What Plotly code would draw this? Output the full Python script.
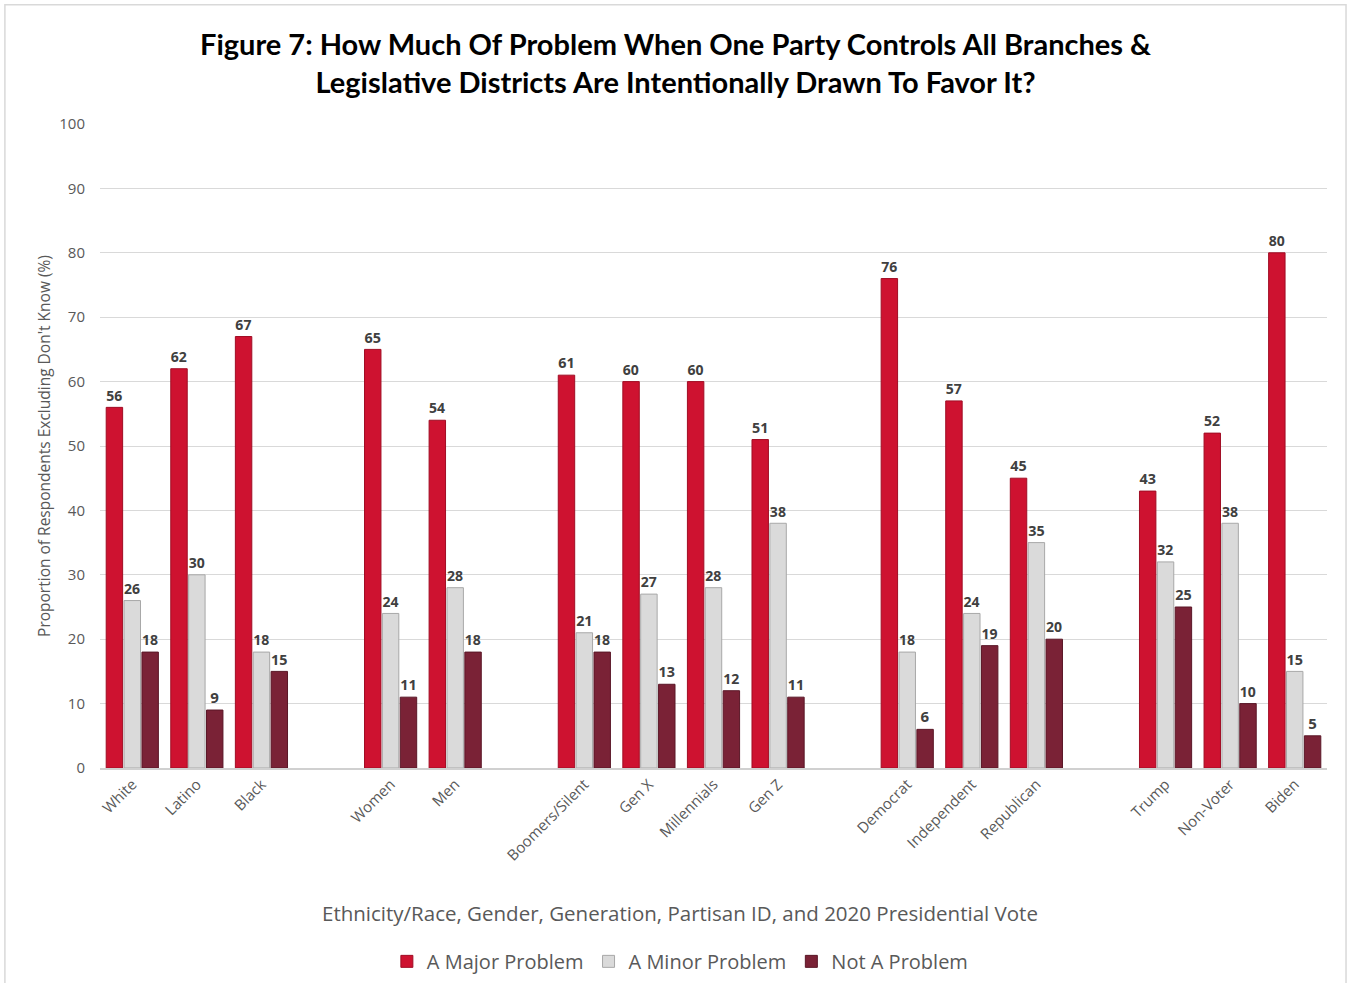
import plotly.graph_objects as go

# Groups separated by blank category slots
categories = ["White", "Latino", "Black", " ",
              "Women", "Men", "  ",
              "Boomers/Silent", "Gen X", "Millennials", "Gen Z", "   ",
              "Democrat", "Independent", "Republican", "    ",
              "Trump", "Non-Voter", "Biden"]

major = [56, 62, 67, None, 65, 54, None, 61, 60, 60, 51, None, 76, 57, 45, None, 43, 52, 80]
minor = [26, 30, 18, None, 24, 28, None, 21, 27, 28, 38, None, 18, 24, 35, None, 32, 38, 15]
not_problem = [18, 9, 15, None, 11, 18, None, 18, 13, 12, 11, None, 6, 19, 20, None, 25, 10, 5]

series = [
    ("A Major Problem", major, "#CE1230", "#A00D24"),
    ("A Minor Problem", minor, "#DADADA", "#A8A8A8"),
    ("Not A Problem", not_problem, "#7A2236", "#5A1727"),
]

fig = go.Figure()
for name, vals, color, edge in series:
    fig.add_trace(go.Bar(
        x=categories, y=vals, name=name,
        marker=dict(color=color, line=dict(color=edge, width=1)),
        text=[("" if v is None else str(v)) for v in vals],
        textposition="outside",
        textfont=dict(family="Open Sans", size=15, color="#404040", weight="bold"),
        cliponaxis=False,
    ))

title_text = ("<b>Figure 7: How Much Of Problem When One Party Controls All Branches &amp;<br>"
              "Legislative Districts Are Intentionally Drawn To Favor It?</b>")

fig.update_layout(
    width=1350, height=983,
    paper_bgcolor="white", plot_bgcolor="white",
    margin=dict(l=100, r=23, t=124, b=215, autoexpand=False),
    barmode="group", bargap=0.17, bargroupgap=0.08,
    font=dict(family="Open Sans", color="#595959"),
    legend=dict(
        orientation="h", x=0.473, xanchor="center",
        yref="container", y=0.022, yanchor="middle",
        font=dict(family="Open Sans", size=20, color="#595959"),
        itemwidth=30, tracegroupgap=0, bgcolor="rgba(0,0,0,0)",
    ),
    xaxis=dict(
        type="category", categoryorder="array", categoryarray=categories,
        tickangle=-45, tickfont=dict(family="Open Sans", size=15, color="#595959"),
        showline=True, linecolor="#D0D0D0", linewidth=1.5, ticks="",
        automargin=False,
    ),
    yaxis=dict(
        range=[0, 100], dtick=10, showgrid=True, gridcolor="#D9D9D9", gridwidth=1,
        zeroline=False, ticks="", ticklabelstandoff=14, automargin=False,
        tickfont=dict(family="Open Sans", size=15, color="#595959"),
        title=dict(text="Proportion of Respondents Excluding Don't Know (%)",
                   font=dict(family="Open Sans", size=15.5, color="#595959"), standoff=4),
    ),
    annotations=[
        dict(text=title_text, xref="paper", yref="paper", x=0.469, y=1.095,
             xanchor="center", yanchor="middle", showarrow=False,
             font=dict(family="Lato", size=29, color="#000000")),
        dict(text="Ethnicity/Race, Gender, Generation, Partisan ID, and 2020 Presidential Vote",
             xref="paper", yref="paper", x=0.473, y=-0.225,
             xanchor="center", yanchor="middle", showarrow=False,
             font=dict(family="Open Sans", size=20.5, color="#595959")),
    ],
    shapes=[dict(type="rect", xref="paper", yref="paper",
                 x0=-0.0775, x1=1.0155, y0=-0.335, y1=1.185,
                 line=dict(color="#D9D9D9", width=1.5), fillcolor="rgba(0,0,0,0)")],
)

fig.write_html("out.html")
